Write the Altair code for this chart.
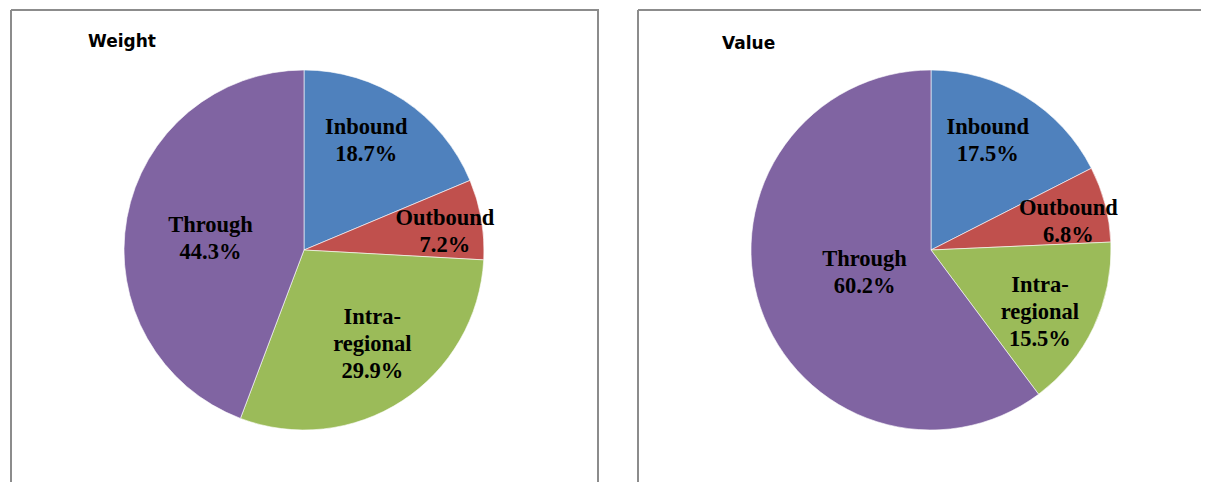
import altair as alt
import pandas as pd

categories = ["Inbound", "Outbound", "Intra-regional", "Through"]
display_labels = ["Inbound", "Outbound", "Intra-\nregional", "Through"]
weight_pct = [18.7, 7.2, 29.9, 44.3]
value_pct = [17.5, 6.8, 15.5, 60.2]

colors = ["#4F81BD", "#C0504D", "#9BBB59", "#8064A2"]
border_color = "#8c8c8c"

LINE_H = 27
# label placement styling: (radius, dx, dy) per category
label_style = {
    "Weight": {"Inbound": (125, -7, -5), "Outbound": (142, 1, 6),
               "Intra-regional": (116, 5, -3), "Through": (94, -1, 5)},
    "Value": {"Inbound": (122, -7, -5), "Outbound": (140, 2, 7),
              "Intra-regional": (125, -4, 8), "Through": (70, 0, 0)},
}
title_pos = {"Weight": (80, 39), "Value": (87, 41)}

H = 474
W1 = 591
W2 = 566
SPACING = 35


def rule(x, y, x2=None, y2=None):
    enc = {"x": alt.value(x), "y": alt.value(y)}
    if x2 is not None:
        enc["x2"] = alt.value(x2)
    if y2 is not None:
        enc["y2"] = alt.value(y2)
    return alt.Chart(pd.DataFrame({"a": [0]})).mark_rule(
        color=border_color, strokeWidth=2
    ).encode(**enc)


def panel(name, values, width, right_border):
    df = pd.DataFrame({
        "category": categories,
        "label": display_labels,
        "value": values,
        "order": list(range(len(categories))),
    })
    cx, cy = 296, 242
    base = alt.Chart(df).encode(
        theta=alt.Theta("value:Q", stack=True),
        order=alt.Order("order:Q"),
        x=alt.value(cx),
        y=alt.value(cy),
    )
    pie = base.mark_arc(outerRadius=180, stroke="white", strokeWidth=0.6).encode(
        color=alt.Color("category:N", scale=alt.Scale(domain=categories, range=colors), legend=None)
    )
    layers = [pie]
    for cat, lab in zip(categories, display_labels):
        r, ddx, ddy = label_style[name][cat]
        n_lines = lab.count("\n") + 2
        t = base.mark_text(
            radius=r,
            dx=ddx,
            dy=ddy - LINE_H * (n_lines - 1) / 2,
            font="Liberation Serif",
            fontWeight="bold",
            fontSize=22.5,
            lineHeight=LINE_H,
            lineBreak="\n",
            color="black",
            align="center",
            baseline="middle",
        ).transform_calculate(
            txt="datum.label + '\\n' + format(datum.value, '.1f') + '%'"
        ).encode(
            text="txt:N",
            opacity=alt.condition(alt.datum.category == cat, alt.value(1), alt.value(0)),
        )
        layers.append(t)
    tx, ty = title_pos[name]
    title = alt.Chart(pd.DataFrame({"t": [name]})).mark_text(
        font="DejaVu Sans", fontWeight="bold", fontSize=17, align="left",
        baseline="alphabetic", color="black",
    ).encode(x=alt.value(tx), y=alt.value(ty), text="t:N")
    layers.append(title)
    layers.append(rule(3, 2, x2=width, y2=None))
    layers.append(rule(3, 2, y2=H))
    if right_border:
        layers.append(rule(width - 1, 2, y2=H))
    return alt.layer(*layers).properties(width=width, height=H)


chart = alt.hconcat(
    panel("Weight", weight_pct, W1, True),
    panel("Value", value_pct, W2, False),
    spacing=SPACING,
).properties(
    padding=0,
    background="white",
).configure_view(
    stroke=None
)

chart.save("out.html", embed_options={"renderer": "svg", "actions": False})
